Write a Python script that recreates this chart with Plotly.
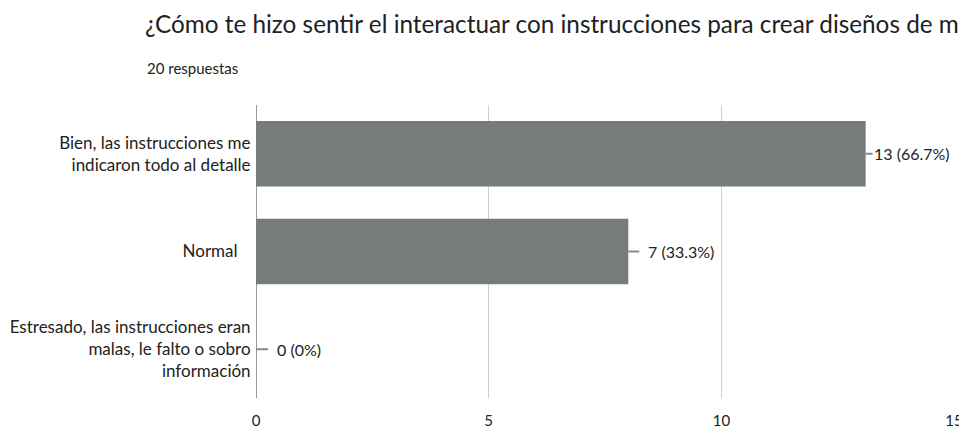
import plotly.graph_objects as go

categories = [
    "Bien, las instrucciones me<br>indicaron todo al detalle",
    "Normal\u00a0\u00a0\u00a0",
    "Estresado, las instrucciones eran<br>malas, le falto o sobro<br>información",
]
bar_lengths = [13.1, 8.0, 0]
counts = [13, 7, 0]
percents = ["66.7%", "33.3%", "0%"]
x_ticks = [0, 5, 10, 15]

FONT = "Lato"
GRAY = "#787b7b"

# The page body adds an 8px margin, so the figure is drawn 8px smaller
W, H = 959, 422
L, R, T, B = 248, 12, 97, 32
PW, PH = W - L - R, H - T - B

fig = go.Figure()
fig.add_trace(go.Bar(
    y=categories, x=bar_lengths, orientation="h",
    marker=dict(color=GRAY, line=dict(width=0)),
    hoverinfo="skip",
))

label_ax = [7, 11, 12]
label_pad = [0, 8, 8]
for cat, v, c, p, ax, pad in zip(categories, bar_lengths, counts, percents, label_ax, label_pad):
    fig.add_annotation(
        x=v, y=cat, xref="x", yref="y",
        text=f"{c} ({p})", showarrow=True, arrowhead=0,
        arrowwidth=2, arrowcolor="#8a8a8a",
        ax=ax, ay=0,
        xanchor="left", yanchor="middle",
        font=dict(family=FONT, size=16, color="#222"),
        borderpad=pad,
    )

fig.add_annotation(
    text="20 respuestas", xref="paper", yref="paper",
    x=(137 - L) / PW, y=1 + (T - 60) / PH,
    xanchor="left", yanchor="middle", showarrow=False,
    font=dict(family=FONT, size=15, color="#222"),
)

fig.update_layout(
    width=W, height=H,
    margin=dict(l=L, r=R, t=T, b=B, autoexpand=False),
    paper_bgcolor="white", plot_bgcolor="white",
    title=dict(
        text="¿Cómo te hizo sentir el interactuar con instrucciones para crear diseños de módulos?",
        x=137 / W, xref="container", xanchor="left",
        y=1 - 16 / H, yref="container", yanchor="middle",
        font=dict(family=FONT, size=24.3, color="#222"),
    ),
    bargap=0.33,
    showlegend=False,
    font=dict(family=FONT, color="#222"),
)
fig.update_xaxes(
    range=[0, 15.02], tickvals=x_ticks, ticktext=[str(t) for t in x_ticks],
    showgrid=True, gridcolor="#cfcfcf", gridwidth=1,
    zeroline=True, zerolinecolor="#9a9a9a", zerolinewidth=1,
    ticks="outside", ticklen=9, tickcolor="rgba(0,0,0,0)",
    tickfont=dict(family=FONT, size=15, color="#222"),
    showline=False, fixedrange=True, automargin=False,
)
fig.update_yaxes(
    autorange="reversed", showgrid=False, showline=False,
    ticks="outside", ticklen=1, tickcolor="rgba(0,0,0,0)",
    tickfont=dict(family=FONT, size=17, color="#222"),
    fixedrange=True, automargin=False,
)

fig.write_html("out.html")
